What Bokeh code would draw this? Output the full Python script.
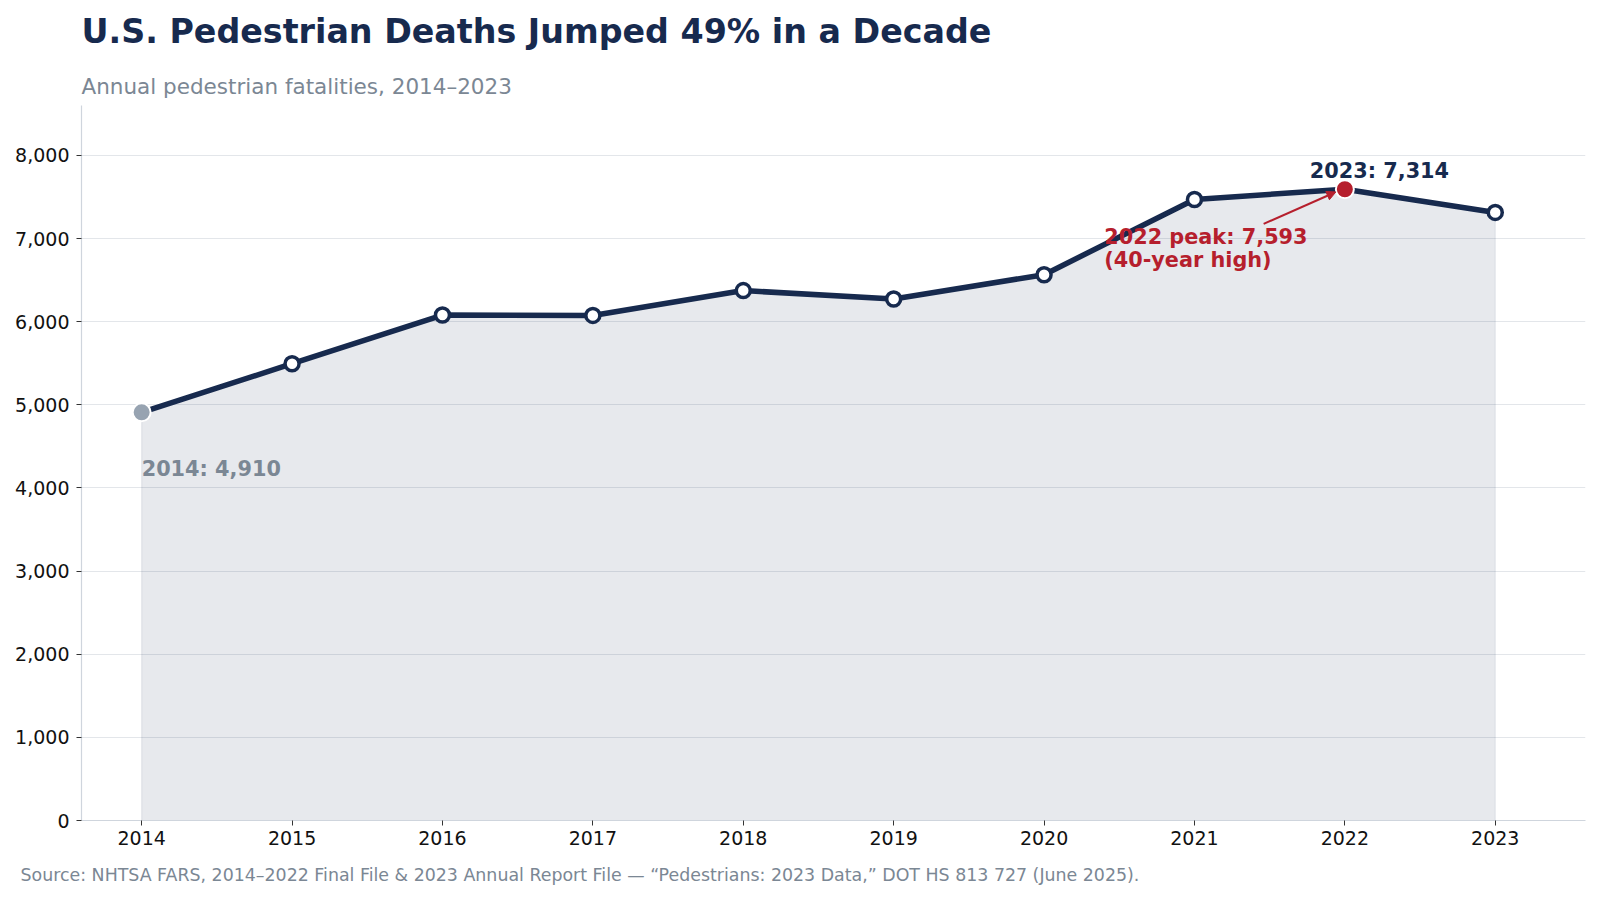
from bokeh.plotting import figure
from bokeh.models import Range1d, Label, Arrow, NormalHead, NumeralTickFormatter, FixedTicker, Title
from bokeh.embed import file_html
from bokeh.resources import INLINE

# Annual pedestrian fatalities (NHTSA FARS)
years = [2014, 2015, 2016, 2017, 2018, 2019, 2020, 2021, 2022, 2023]
deaths = [4910, 5494, 6080, 6075, 6374, 6272, 6565, 7470, 7593, 7314]
y_ticks = [0, 1000, 2000, 3000, 4000, 5000, 6000, 7000, 8000]

TITLE = "U.S. Pedestrian Deaths Jumped 49% in a Decade"
SUBTITLE = "Annual pedestrian fatalities, 2014\u20132023"
SOURCE = ("Source: NHTSA FARS, 2014\u20132022 Final File & 2023 Annual Report File \u2014 "
          "\u201cPedestrians: 2023 Data,\u201d DOT HS 813 727 (June 2025).")

NAVY = "#172a4e"
RED = "#b61f2d"
GRAY = "#7b8794"
FONT = "DejaVu Sans"

peak = deaths.index(max(deaths))

p = figure(width=1600, height=900, output_backend="svg", toolbar_location=None,
           x_range=Range1d(2013.6, 2023.6), y_range=Range1d(0, 8600),
           min_border_left=81, min_border_right=15, min_border_top=105,
           min_border_bottom=80, background_fill_color="white",
           border_fill_color="white", outline_line_color=None)

# axes
p.xaxis.ticker = FixedTicker(ticks=years)
p.yaxis.ticker = FixedTicker(ticks=y_ticks)
p.yaxis.formatter = NumeralTickFormatter(format="0,0")
for ax in (p.xaxis[0], p.yaxis[0]):
    ax.axis_line_color = "#cfd5dd"
    ax.axis_line_width = 1.2
    ax.major_tick_line_color = "#333333"
    ax.major_tick_in = 0
    ax.major_tick_out = 5
    ax.minor_tick_line_color = None
    ax.major_label_text_font = FONT
    ax.major_label_text_font_size = "19px"
    ax.major_label_text_color = "#111111"
p.xaxis.major_label_standoff = 5
p.yaxis.major_label_standoff = 7

p.xgrid.grid_line_color = None
p.ygrid.grid_line_color = "#e3e6ea"
p.ygrid.grid_line_width = 1

# shaded area under the series
p.patch(x=years + years[::-1], y=deaths + [0] * len(years),
        fill_color=NAVY, fill_alpha=0.1, line_color=NAVY, line_alpha=0.08,
        line_width=1.2)

p.line(years, deaths, line_color=NAVY, line_width=5.5, line_join="round")
p.scatter(years[1:], deaths[1:], size=14, fill_color="white",
          line_color=NAVY, line_width=3.5)
p.scatter([years[0]], [deaths[0]], size=18, fill_color="#97a3b1",
          line_color="white", line_width=2)
p.scatter([years[peak]], [deaths[peak]], size=18, fill_color=RED,
          line_color="white", line_width=2)

# annotations
p.add_layout(Label(x=2022.23, y=7809, text=f"{years[-1]}: {deaths[-1]:,}",
                   text_font=FONT, text_font_style="bold", text_font_size="20.8px",
                   text_color=NAVY, text_align="center", text_baseline="alphabetic"))
p.add_layout(Label(x=years[0], y=4232, text=f"{years[0]}: {deaths[0]:,}",
                   text_font=FONT, text_font_style="bold", text_font_size="20.8px",
                   text_color=GRAY, text_align="left", text_baseline="alphabetic"))
p.add_layout(Label(x=2020.40, y=7014, text=f"{years[peak]} peak: {deaths[peak]:,}",
                   text_font=FONT, text_font_style="bold", text_font_size="20.8px",
                   text_color=RED, text_align="left", text_baseline="alphabetic"))
p.add_layout(Label(x=2020.40, y=6738, text="(40-year high)",
                   text_font=FONT, text_font_style="bold", text_font_size="20.8px",
                   text_color=RED, text_align="left", text_baseline="alphabetic"))
p.add_layout(Arrow(x_start=2021.46, y_start=7176, x_end=2021.94, y_end=7560,
                   line_color=RED, line_width=2,
                   end=NormalHead(size=9, fill_color=RED, line_color=RED, line_width=1)))

# subtitle first (closest to the frame), headline above it
p.add_layout(Title(text=SUBTITLE, text_font=FONT, text_font_size="21.5px",
                   text_font_style="normal", text_color=GRAY, align="left",
                   vertical_align="bottom", standoff=14), "above")
p.add_layout(Title(text=TITLE, text_font=FONT, text_font_size="33.3px",
                   text_font_style="bold", text_color=NAVY, align="left",
                   vertical_align="top", standoff=23), "above")

# source note under the x axis
p.add_layout(Title(text=SOURCE, text_font=FONT, text_font_size="17.4px",
                   text_font_style="normal", text_color=GRAY, align="left",
                   vertical_align="bottom", offset=-61, standoff=30), "below")

open("out.html", "w").write(file_html(p, INLINE))
